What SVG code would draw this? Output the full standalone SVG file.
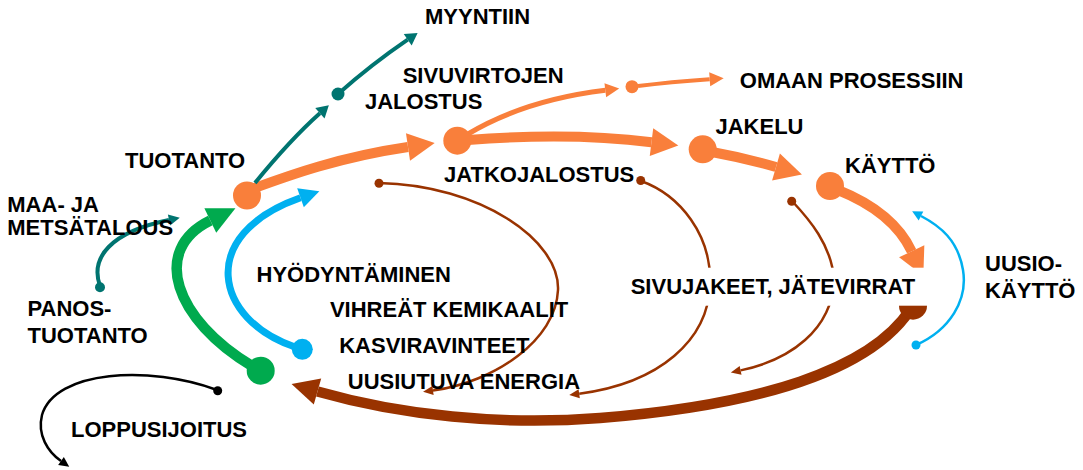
<svg xmlns="http://www.w3.org/2000/svg" width="1083" height="470" viewBox="0 0 1083 470">
<style>
text{font-family:"Liberation Sans",Arial,sans-serif;font-weight:bold;font-size:22px;fill:#000}
.c{fill:none;stroke-linecap:butt}
.or{stroke:#F97F3B}.te{stroke:#007470}.gr{stroke:#00AA4E}.bl{stroke:#00B0F0}.br{stroke:#993300}.bk{stroke:#000}
.thick{stroke-width:10}
.fo{fill:#F97F3B}.ft{fill:#007470}.fg{fill:#00AA4E}.fb{fill:#00B0F0}.fr{fill:#993300}.fk{fill:#000}
</style>
<defs>
<marker id="mOrBig" markerUnits="userSpaceOnUse" orient="auto" markerWidth="30" markerHeight="30" refX="0" refY="0" viewBox="0 -15 30 30" overflow="visible"><path d="M0,-14 L27,0 L0,14 z" class="fo"/></marker>
<marker id="mOrSm" markerUnits="userSpaceOnUse" orient="auto" markerWidth="16" markerHeight="16" refX="0" refY="0" viewBox="0 -8 16 16" overflow="visible"><path d="M0,-7 L14,0 L0,7 z" class="fo"/></marker>
<marker id="mTe" markerUnits="userSpaceOnUse" orient="auto" markerWidth="16" markerHeight="16" refX="0" refY="0" viewBox="0 -8 16 16" overflow="visible"><path d="M0,-7 L12,0 L0,7 z" class="ft"/></marker>
<marker id="mTeS" markerUnits="userSpaceOnUse" orient="auto" markerWidth="16" markerHeight="16" refX="0" refY="0" viewBox="0 -8 16 16" overflow="visible"><path d="M0,-5.5 L11,0 L0,5.5 z" class="ft"/></marker>
<marker id="mGr" markerUnits="userSpaceOnUse" orient="auto" markerWidth="30" markerHeight="30" refX="0" refY="0" viewBox="0 -15 30 30" overflow="visible"><path d="M0,-13.5 L28,0 L0,13.5 z" class="fg"/></marker>
<marker id="mBlBig" markerUnits="userSpaceOnUse" orient="auto" markerWidth="22" markerHeight="22" refX="0" refY="0" viewBox="0 -11 22 22" overflow="visible"><path d="M0,-10 L20,0 L0,10 z" class="fb"/></marker>
<marker id="mBlSm" markerUnits="userSpaceOnUse" orient="auto" markerWidth="12" markerHeight="12" refX="0" refY="0" viewBox="0 -6 12 12" overflow="visible"><path d="M0,-5 L10,0 L0,5 z" class="fb"/></marker>
<marker id="mBrBig" markerUnits="userSpaceOnUse" orient="auto" markerWidth="30" markerHeight="30" refX="0" refY="0" viewBox="0 -15 30 30" overflow="visible"><path d="M0,-13.5 L27,0 L0,13.5 z" class="fr"/></marker>
<marker id="mBrSm" markerUnits="userSpaceOnUse" orient="auto" markerWidth="12" markerHeight="12" refX="0" refY="0" viewBox="0 -6 12 12" overflow="visible"><path d="M0,-4.5 L10,0 L0,4.5 z" class="fr"/></marker>
<marker id="mBk" markerUnits="userSpaceOnUse" orient="auto" markerWidth="12" markerHeight="12" refX="0" refY="0" viewBox="0 -6 12 12" overflow="visible"><path d="M0,-5 L10,0 L0,5 z" class="fk"/></marker>
</defs>

<g id="connectors">
  <!-- orange main flow -->
  <path class="c or thick" d="M252,189 C290,175 340,157 408,147" marker-end="url(#mOrBig)"/>
  <path class="c or thick" d="M468,140 Q570,132 651.5,142.2" marker-end="url(#mOrBig)"/>
  <path class="c or thick" d="M712,152 Q745,158 776,167" marker-end="url(#mOrBig)"/>
  <path class="c or thick" d="M838,190 Q893,212 911.7,251.3" marker-end="url(#mOrBig)"/>
  <!-- side streams -->
  <path class="c or" stroke-width="5" d="M468,134 Q525,100 605.3,90.3" marker-end="url(#mOrSm)"/>
  <path class="c or" stroke-width="4" d="M638,86 Q670,82 709.7,79.2" marker-end="url(#mOrSm)"/>
  <path class="c te" stroke-width="4" d="M255,183 Q290,140 319.9,113.3" marker-end="url(#mTe)"/>
  <path class="c te" stroke-width="4" d="M338,94 Q372,64 407.7,39.7" marker-end="url(#mTe)"/>
  <path class="c te" stroke-width="4" d="M100,286 C90,258 110,232 169,220" marker-end="url(#mTeS)"/>
  <!-- return loops -->
  <path class="c gr" stroke-width="10.5" d="M252,366 C175,320 150,250 210.3,220.5" marker-end="url(#mGr)"/>
  <path class="c bl" stroke-width="7" d="M295,347 C215,320 195,235 300.5,197.8" marker-end="url(#mBlBig)"/>
  <path class="c br" stroke-width="10.5" d="M910,310 C870,370 760,405 600,418 C500,426 400,415 317.5,391.5" marker-end="url(#mBrBig)"/>
  <path class="c br" stroke-width="2.5" d="M379,183 C480,185 560,240 558,290 C556,340 495,382 433,390.5" marker-end="url(#mBrSm)"/>
  <path class="c br" stroke-width="2.5" d="M641,181 C680,195 712,235 710,285 C708,340 660,383 579.2,393.7" marker-end="url(#mBrSm)"/>
  <path class="c br" stroke-width="2.5" d="M792,201 C808,218 832,245 834,280 C832,330 790,360 740.6,370.4" marker-end="url(#mBrSm)"/>
  <path class="c bl" stroke-width="2.5" d="M916,345 C950,330 968,300 963,270 C958,240 940,226 921,216" marker-end="url(#mBlSm)"/>
  <path class="c bk" stroke-width="2.5" d="M217,390 C150,365 55,370 42,415 C37,435 48,452 61,461" marker-end="url(#mBk)"/>
  <!-- small dots -->
  <circle class="ft" cx="338" cy="94" r="6.5"/>
  <circle class="fo" cx="632" cy="86.7" r="6.5"/>
  <circle class="ft" cx="100" cy="287.3" r="5"/>
  <circle class="fr" cx="379" cy="183.3" r="4.5"/>
  <circle class="fr" cx="640.7" cy="180.5" r="4.5"/>
  <circle class="fr" cx="791.7" cy="201.3" r="4.5"/>
  <circle class="fb" cx="916" cy="345" r="4.5"/>
  <circle class="fk" cx="217.7" cy="390.7" r="4.5"/>
  <circle class="fr" cx="913" cy="305.7" r="14"/>
</g>

<g id="node-tuotanto"><circle class="fo" cx="247" cy="195.5" r="14"/><text x="125" y="168">TUOTANTO</text></g>
<g id="node-jatkojalostus"><circle class="fo" cx="457.3" cy="140.7" r="14"/><text x="444" y="181.7">JATKOJALOSTUS</text></g>
<g id="node-jakelu"><circle class="fo" cx="702.7" cy="149.3" r="14"/><text x="715.5" y="134.3">JAKELU</text></g>
<g id="node-kaytto"><circle class="fo" cx="830" cy="186" r="14"/><text x="845" y="172.7">KÄYTTÖ</text></g>
<g id="node-green"><circle class="fg" cx="260.7" cy="370.7" r="14"/></g>
<g id="node-blue"><circle class="fb" cx="302.3" cy="349.3" r="10.5"/></g>
<g id="label-myyntiin"><text x="425" y="24.3">MYYNTIIN</text></g>
<g id="label-sivuvirtojen"><text x="402.7" y="83">SIVUVIRTOJEN</text><text x="365" y="109.3">JALOSTUS</text></g>
<g id="label-omaan"><text x="739.8" y="87.7">OMAAN PROSESSIIN</text></g>
<g id="label-maa"><text x="7.3" y="211.7">MAA- JA</text><text x="7.3" y="235">METSÄTALOUS</text></g>
<g id="label-panos"><text x="27.5" y="316">PANOS-</text><text x="27.5" y="342.7">TUOTANTO</text></g>
<g id="label-hyodyntaminen"><text x="256.5" y="282.3">HYÖDYNTÄMINEN</text><text x="329.9" y="317">VIHREÄT KEMIKAALIT</text><text x="339.2" y="352.7">KASVIRAVINTEET</text><text x="347.8" y="388.6">UUSIUTUVA ENERGIA</text></g>
<g id="label-loppusijoitus"><text x="71" y="437">LOPPUSIJOITUS</text></g>
<g id="label-uusiokaytto"><text x="985" y="271">UUSIO-</text><text x="985" y="297.7">KÄYTTÖ</text></g>
<g id="node-sivujakeet"><rect x="625" y="267.7" width="304" height="38" fill="#fff"/><text x="630.7" y="294.3">SIVUJAKEET, JÄTEVIRRAT</text></g>
</svg>
